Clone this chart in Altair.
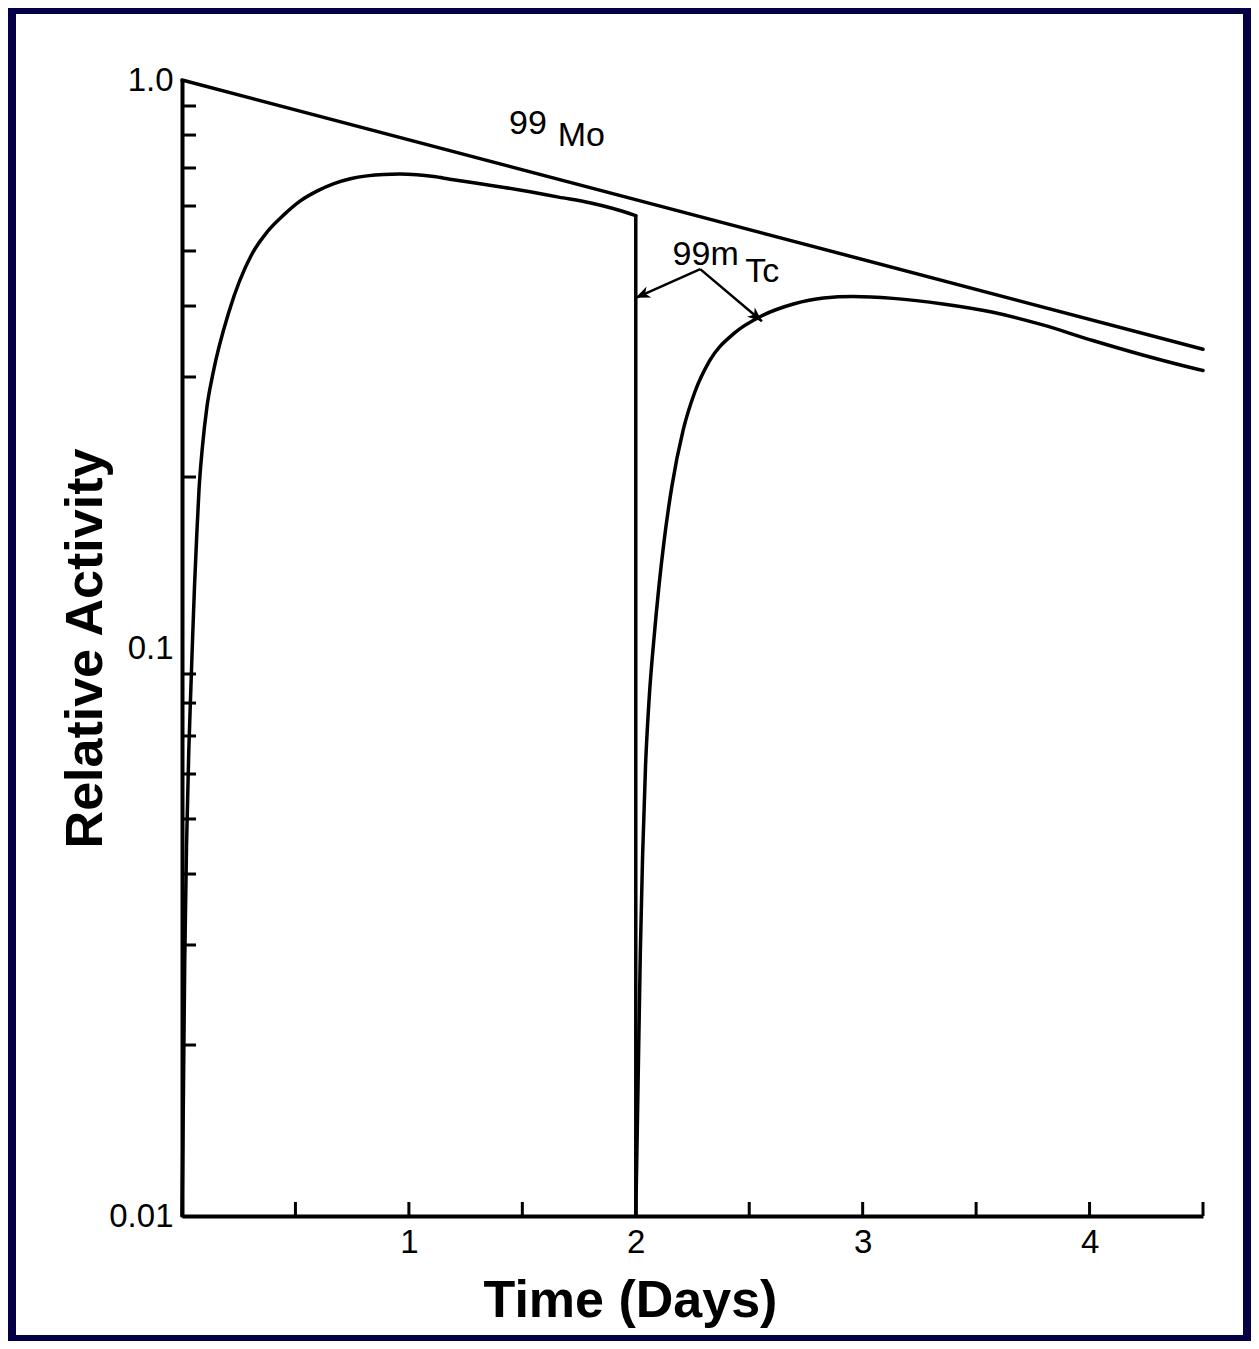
import altair as alt
import pandas as pd

# ---- data ----
mo_t = [0.0, 4.5]
mo_v = [1.0, 0.3357]

tc1_t = [0.000, 0.006, 0.012, 0.020, 0.030, 0.040, 0.047, 0.055, 0.065, 0.075, 0.090,
         0.110, 0.137, 0.207, 0.306, 0.375, 0.451, 0.520, 0.597, 0.670,
         0.742, 0.815, 0.888, 0.960, 1.035, 1.110, 1.181, 1.300, 1.420, 1.540, 1.660,
         1.797, 1.900, 2.000]
tc1_v = [0.010, 0.016, 0.028, 0.045, 0.066, 0.087, 0.105, 0.128, 0.158, 0.190, 0.226,
         0.266, 0.305, 0.391, 0.492, 0.540, 0.580, 0.612, 0.638, 0.657,
         0.670, 0.678, 0.682, 0.683, 0.681, 0.676, 0.669, 0.658, 0.647, 0.635, 0.622,
         0.608, 0.594, 0.577]

# elution at day 2: activity falls from the last value to the floor
drop_t = [2.000, 2.000]
drop_v = [0.577, 0.010]

tc2_t = [2.000, 2.010, 2.020, 2.030, 2.043, 2.059, 2.080, 2.102, 2.126, 2.158, 2.209,
         2.260, 2.325, 2.433, 2.556, 2.695, 2.827, 2.958, 3.134, 3.354, 3.574, 3.794,
         4.014, 4.234, 4.485, 4.500]
tc2_v = [0.010, 0.017, 0.029, 0.043, 0.062, 0.0815, 0.1038, 0.1283, 0.1557, 0.1914, 0.2421,
         0.2820, 0.3202, 0.3580, 0.3845, 0.4033, 0.4132, 0.4157, 0.4126, 0.4034, 0.390, 0.3705,
         0.3478, 0.328, 0.309, 0.308]

y_minor_ticks = [0.02, 0.03, 0.04, 0.05, 0.06, 0.07, 0.08, 0.09,
                 0.2, 0.3, 0.4, 0.5, 0.6, 0.7, 0.8, 0.9]
x_ticks = [0.5, 1.0, 1.5, 2.0, 2.5, 3.0, 3.5, 4.0, 4.5]
x_labels = [1, 2, 3, 4]
y_labels = [0.01, 0.1, 1.0]

ann_text = ["99", "Mo", "99m", "Tc"]
ann_t = [1.525, 1.760, 2.308, 2.557]
ann_v = [0.838, 0.796, 0.4928, 0.460]

arrow_t0 = [2.284, 2.284]
arrow_v0 = [0.4645, 0.4645]
arrow_t1 = [2.0, 2.556]
arrow_v1 = [0.4135, 0.376]
arrow_angle = [246, 130]

# ---- tables ----
def table(series_list):
    rows = []
    for name, ts, vs in series_list:
        for i, (t, v) in enumerate(zip(ts, vs)):
            rows.append({"series": name, "i": i, "t": t, "v": v})
    return pd.DataFrame(rows)

smooth = table([("Mo", mo_t, mo_v), ("Tc1", tc1_t, tc1_v), ("Tc2", tc2_t, tc2_v)])
straight = table([("drop", drop_t, drop_v)])
yt = pd.DataFrame({"v": y_minor_ticks})
xt = pd.DataFrame({"t": x_ticks})
ann = pd.DataFrame({"label": ann_text, "t": ann_t, "v": ann_v})
arrows = pd.DataFrame({"t0": arrow_t0, "v0": arrow_v0, "t1": arrow_t1,
                       "v1": arrow_v1, "a": arrow_angle})

W, H = 1021, 1136
FONT = "Liberation Sans"

xs = alt.Scale(domain=[0, 4.5], nice=False, zero=False)
ys = alt.Scale(type="log", domain=[0.01, 1], nice=False)

xaxis = alt.Axis(values=x_labels, format="d", title="Time (Days)", ticks=False, grid=False,
                 zindex=1, domainColor="black", domainWidth=4, labelFont=FONT,
                 labelFontSize=33, labelColor="black", labelPadding=10, titleFont=FONT,
                 titleFontSize=52, titleFontWeight="bold", titleColor="black", titleX=448,
                 titleY=100, titleAlign="center", titleBaseline="alphabetic")
yaxis = alt.Axis(values=y_labels, title="Relative Activity", ticks=False, grid=False,
                 zindex=1,
                 labelExpr="datum.value >= 0.99 ? '1.0' : (datum.value >= 0.099 ? '0.1' : '0.01')",
                 domainColor="black", domainWidth=4, labelFont=FONT, labelFontSize=33,
                 labelColor="black", labelPadding=9, labelOverlap=False, titleFont=FONT,
                 titleFontSize=52, titleFontWeight="bold", titleColor="black", titleX=-81,
                 titleY=H / 2, titleAlign="center", titleBaseline="alphabetic", titleAngle=270)

bg = alt.Chart(pd.DataFrame({"k": [0]})).mark_rect(color="white", clip=False).encode(
    x=alt.value(-166), x2=alt.value(1061), y=alt.value(-66), y2=alt.value(1255))

lines = alt.Chart(smooth).mark_line(color="black", strokeWidth=3.5, strokeCap="round",
                                    strokeJoin="round", interpolate="monotone").encode(
    x=alt.X("t:Q", scale=xs, axis=xaxis),
    y=alt.Y("v:Q", scale=ys, axis=yaxis),
    detail="series:N",
    order="i:Q",
)

drop = alt.Chart(straight).mark_line(color="black", strokeWidth=3.5, strokeCap="round").encode(
    x=alt.X("t:Q", scale=xs, axis=xaxis),
    y=alt.Y("v:Q", scale=ys, axis=yaxis),
    order="i:Q",
)

yticks = alt.Chart(yt).mark_rule(color="black", strokeWidth=3).encode(
    y=alt.Y("v:Q", scale=ys, axis=yaxis), x=alt.value(0), x2=alt.value(14))

xticks = alt.Chart(xt).mark_rule(color="black", strokeWidth=3).encode(
    x=alt.X("t:Q", scale=xs, axis=xaxis), y=alt.value(H), y2=alt.value(H - 14))

arrow_lines = alt.Chart(arrows).mark_rule(color="black", strokeWidth=2.5).encode(
    x=alt.X("t0:Q", scale=xs, axis=xaxis), y=alt.Y("v0:Q", scale=ys, axis=yaxis),
    x2="t1:Q", y2="v1:Q")

heads = alt.Chart(arrows).mark_point(shape="M0,0L-1,2.4L0,1.7L1,2.4Z", filled=True, size=144,
                                     color="black", opacity=1, strokeWidth=0).encode(
    x=alt.X("t1:Q", scale=xs, axis=xaxis), y=alt.Y("v1:Q", scale=ys, axis=yaxis),
    angle=alt.Angle("a:Q", scale=None))

labels = alt.Chart(ann).mark_text(font=FONT, fontSize=34, color="black", align="center",
                                  baseline="middle").encode(
    x=alt.X("t:Q", scale=xs, axis=xaxis), y=alt.Y("v:Q", scale=ys, axis=yaxis),
    text="label:N")

chart = alt.layer(bg, lines, drop, yticks, xticks, arrow_lines, heads, labels).properties(
    width=W, height=H, background="#050045",
    padding={"left": 174, "top": 72, "right": 48, "bottom": 125},
    autosize=alt.AutoSizeParams(type="none"),
).configure_view(stroke=None)

chart.save("out.html", embed_options={"renderer": "svg", "actions": False})
